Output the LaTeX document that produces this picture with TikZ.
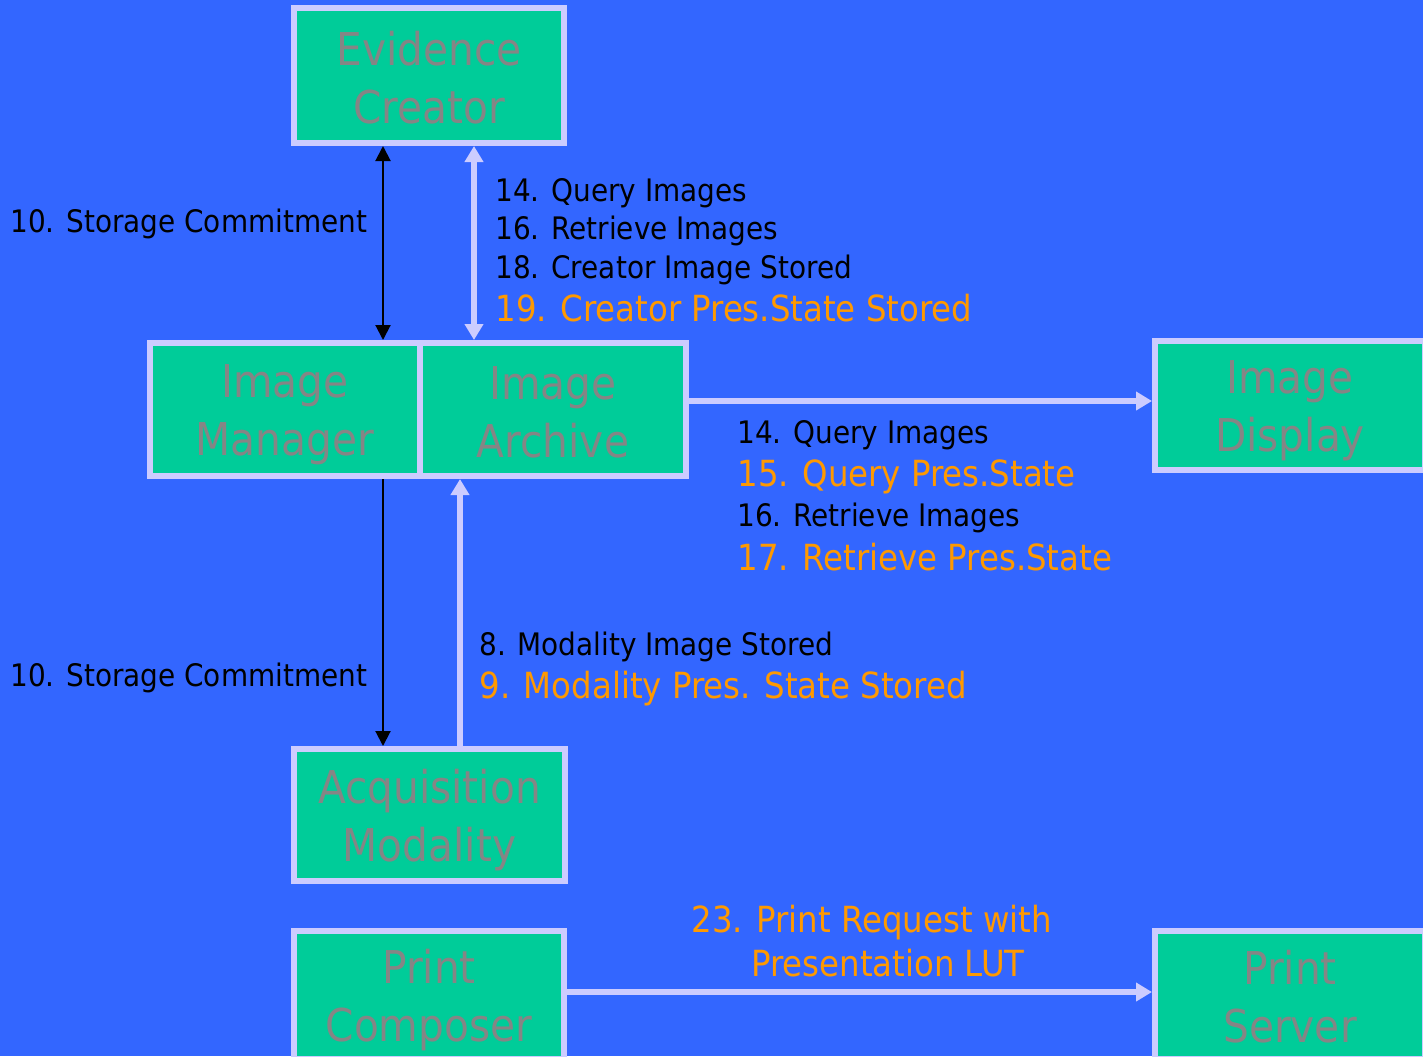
\documentclass[tikz,border=0pt]{standalone}
\usepackage{fontspec}
\setmainfont{DejaVu Sans Condensed}
\usetikzlibrary{arrows.meta}
\definecolor{bgblue}{HTML}{3366FF}
\definecolor{boxfill}{HTML}{00CC99}
\definecolor{boxline}{HTML}{CCCCFF}
\definecolor{boxtext}{HTML}{858585}
\definecolor{msgorange}{HTML}{FF9900}
% fixed line box for the two-line actor names
\newcommand{\actorstrut}{\rule[-3.5pt]{0pt}{25.5pt}}
\newcommand{\actor}[2]{#1\actorstrut\\#2\actorstrut}
\begin{document}
\begin{tikzpicture}[x=0.5pt,y=-0.5pt,
  box/.style={draw=boxline, fill=boxfill, line width=3pt, outer sep=1.5pt,
    inner sep=0pt, minimum width=135pt, minimum height=67pt, align=center,
    text=boxtext, font=\fontsize{22.6}{29}\selectfont},
  lbl/.style={anchor=base west, inner sep=0pt, text=black,
    font=\fontsize{15.5}{19}\selectfont},
  olbl/.style={anchor=base west, inner sep=0pt, text=msgorange,
    font=\fontsize{18}{22}\selectfont},
  blkline/.style={draw=black, line width=1pt},
  lavline/.style={draw=boxline, line width=3pt}
]
\useasboundingbox (0,0) rectangle (1423,1056);
\fill[bgblue] (0,0) rectangle (1423,1056);

% actors
\node[box, minimum width=135pt, minimum height=67.5pt] (evid) at (429,75.5) {\actor{Evidence}{Creator}};
\node[box, minimum width=135pt, minimum height=66.5pt] (mgr) at (285,409.5) {\actor{Image}{Manager}};
\node[box, minimum width=133pt, minimum height=66.5pt] (arch) at (553,409.5) {\actor{Image}{Archive}};
\node[box, minimum width=135pt, minimum height=64.5pt] (disp) at (1290,405.5) {\actor{Image}{Display}};
\node[box, minimum width=135.5pt, minimum height=66pt] (acq) at (429.5,815) {\actor{Acquisition}{Modality}};
\node[box, minimum width=135pt, minimum height=64pt] (comp) at (429,995) {\actor{Print}{Composer}};
\node[box, minimum width=135pt, minimum height=64pt] (serv) at (1290,995) {\actor{Print}{Server}};

% connector lanes
\coordinate (laneA) at (383,0);
\coordinate (laneB) at (474,0);
\coordinate (laneC) at (460,0);
\coordinate (laneD) at (0,401);
\coordinate (laneE) at (0,992);

% connectors
\draw[blkline, {Triangle[length=7.5pt,width=7.5pt]}-{Triangle[length=7.5pt,width=7.5pt]}]
  (evid.south -| laneA) -- (mgr.north -| laneA);
\draw[lavline, {Triangle[length=8pt,width=9pt]}-{Triangle[length=8pt,width=9pt]}]
  (evid.south -| laneB) -- (arch.north -| laneB);
\draw[lavline, -{Triangle[length=8pt,width=9pt]}]
  (arch.east |- laneD) -- (disp.west |- laneD);
\draw[blkline, -{Triangle[length=7.5pt,width=7.5pt]}]
  (mgr.south -| laneA) -- (acq.north -| laneA);
\draw[lavline, -{Triangle[length=8pt,width=9pt]}]
  (acq.north -| laneC) -- (arch.south -| laneC);
\draw[lavline, -{Triangle[length=8pt,width=9pt]}]
  (comp.east |- laneE) -- (serv.west |- laneE);

% message labels
\node[lbl] (sc1) at (10,232) {10. Storage Commitment};
\node[lbl] (t1) at (495,201) {14. Query Images};
\node[lbl] (t2) at (495,239) {16. Retrieve Images};
\node[lbl] (t3) at (495,278) {18. Creator Image Stored};
\node[olbl] (t4) at (495,321) {19. Creator Pres.State Stored};

\node[lbl] (m1) at (737,443) {14. Query Images};
\node[olbl] (m2) at (737,486) {15. Query Pres.State};
\node[lbl] (m3) at (737,526) {16. Retrieve Images};
\node[olbl] (m4) at (737,570) {17. Retrieve Pres.State};

\node[lbl] (b1) at (479,655) {8. Modality Image Stored};
\node[olbl] (b2) at (479,698) {9. Modality Pres. State Stored};
\node[lbl] (sc2) at (10,686) {10. Storage Commitment};

\node[olbl] (p1) at (691,932) {23. Print Request with};
\node[olbl] (p2) at (751,976) {Presentation LUT};
\end{tikzpicture}
\end{document}
